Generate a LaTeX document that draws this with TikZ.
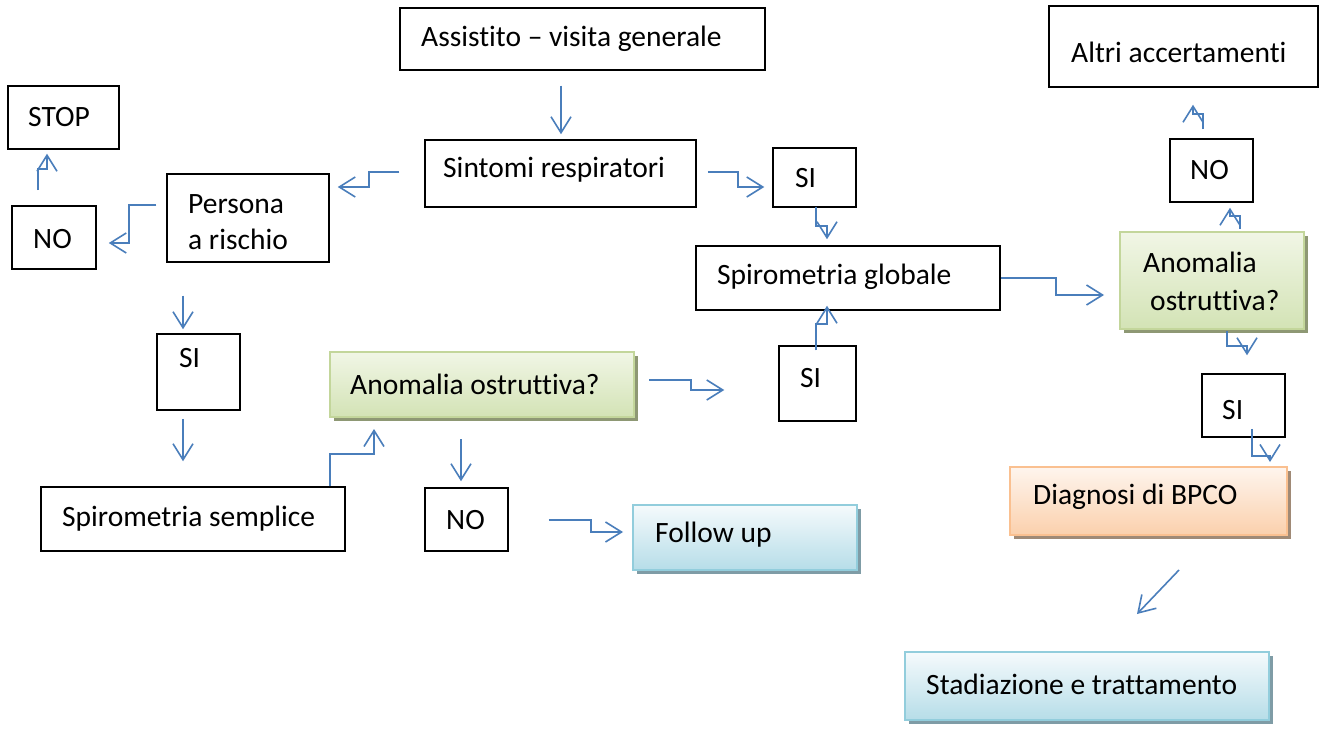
\documentclass[tikz,border=0pt]{standalone}
\usepackage{fontspec}
\setmainfont[Ligatures=NoCommon]{Carlito}
\usetikzlibrary{arrows.meta,calc,shadows}
\definecolor{conncol}{HTML}{4A7EBB}
\definecolor{grtop}{HTML}{F1F6E6}
\definecolor{grbot}{HTML}{D3E3B5}
\definecolor{grline}{HTML}{C3D69B}
\definecolor{grshad}{HTML}{8E9874}
\definecolor{bltop}{HTML}{F5FAFC}
\definecolor{blbot}{HTML}{B6DDE8}
\definecolor{blline}{HTML}{92CDDC}
\definecolor{blshad}{HTML}{7F9CA6}
\definecolor{ortop}{HTML}{FEF5EE}
\definecolor{orbot}{HTML}{FBD0AC}
\definecolor{orline}{HTML}{FAC090}
\definecolor{orshad}{HTML}{A08A76}
\tikzset{
  bx/.style={draw=black, line width=1.5pt, fill=white, inner sep=0pt},
  greenbx/.style={draw=grline, line width=2pt, top color=grtop, bottom color=grbot, inner sep=0pt,
     drop shadow={shadow xshift=4pt, shadow yshift=-4pt, fill=grshad, opacity=1}},
  bluebx/.style={draw=blline, line width=2pt, top color=bltop, bottom color=blbot, inner sep=0pt,
     drop shadow={shadow xshift=4pt, shadow yshift=-4pt, fill=blshad, opacity=1}},
  orangebx/.style={draw=orline, line width=2pt, top color=ortop, bottom color=orbot, inner sep=0pt,
     drop shadow={shadow xshift=4pt, shadow yshift=-4pt, fill=orshad, opacity=1}},
  txt/.style={anchor=west, inner sep=0pt, align=left, font=\fontsize{29.5}{36}\selectfont},
  conn/.style={draw=conncol, line width=1.6pt, -{Straight Barb[length=16pt,width=20pt,line width=1.6pt]}},
}
\begin{document}
\begin{tikzpicture}[x=1pt,y=-1pt]
\useasboundingbox[fill=white] (0,0) rectangle (1326,730);
% boxes
\node[bx, minimum width=365pt, minimum height=62pt] (assist) at (582.5,39) {};
\node[bx, minimum width=111pt, minimum height=63pt] (stop) at (63.5,117.5) {};
\node[bx, minimum width=271pt, minimum height=67pt] (sint) at (560.5,173.5) {};
\node[bx, minimum width=162pt, minimum height=88pt] (pers) at (248,218) {};
\node[bx, minimum width=84pt, minimum height=63pt] (noL) at (54,237.5) {};
\node[bx, minimum width=83pt, minimum height=59pt] (siT) at (814.5,177.5) {};
\node[bx, minimum width=304pt, minimum height=64pt] (spg) at (848,278) {};
\node[bx, minimum width=269pt, minimum height=81pt] (altri) at (1183.5,46.5) {};
\node[bx, minimum width=83pt, minimum height=63pt] (noR) at (1211.5,170.5) {};
\node[greenbx, minimum width=184pt, minimum height=97pt] (anR) at (1212,280.5) {};
\node[bx, minimum width=83pt, minimum height=76pt] (siL) at (198.5,372) {};
\node[greenbx, minimum width=304pt, minimum height=65pt] (anM) at (482,384.5) {};
\node[bx, minimum width=77pt, minimum height=75pt] (siM) at (817.5,383.5) {};
\node[bx, minimum width=83pt, minimum height=63pt] (siR) at (1243.5,405.5) {};
\node[bx, minimum width=304pt, minimum height=64pt] (sps) at (193,519) {};
\node[bx, minimum width=83pt, minimum height=63pt] (noM) at (466.5,519.5) {};
\node[bluebx, minimum width=224pt, minimum height=65pt] (follow) at (745,537.5) {};
\node[orangebx, minimum width=277pt, minimum height=68pt] (diag) at (1148.5,501) {};
\node[bluebx, minimum width=364pt, minimum height=68pt] (stad) at (1087,686) {};
% texts
\node[txt] (t-assist) at (421,39) {Assistito – visita generale};
\node[txt] (t-stop) at (28,117) {STOP};
\node[txt] (t-sint) at (443,170) {Sintomi respiratori};
\node[txt] (t-pers) at (188,222) {Persona\\a rischio};
\node[txt] (t-noL) at (33,239) {NO};
\node[txt] (t-siT) at (795,178) {SI};
\node[txt] (t-spg) at (717,277) {Spirometria globale};
\node[txt] (t-altri) at (1071,52) {Altri accertamenti};
\node[txt] (t-noR) at (1190,170) {NO};
\node[txt] (t-anR) at (1143,281) {Anomalia\\[2pt]\hspace*{7pt}ostruttiva?};
\node[txt] (t-siL) at (179,358) {SI};
\node[txt] (t-anM) at (350,384) {Anomalia ostruttiva?};
\node[txt] (t-siM) at (800,378) {SI};
\node[txt] (t-siR) at (1222,410) {SI};
\node[txt] (t-sps) at (62,519) {Spirometria semplice};
\node[txt] (t-noM) at (446,520) {NO};
\node[txt] (t-follow) at (655,535) {Follow up};
\node[txt] (t-diag) at (1033,497) {Diagnosi di BPCO};
\node[txt] (t-stad) at (926,684) {Stadiazione e trattamento};
% connectors
\draw[conn] ($(assist.south)+(-21.5,15)$) -- ($(sint.north)+(0.5,-5)$);
\draw[conn] ($(sint.west)+(-25,-1.5)$) -- ++(-30,0) |- ($(pers.east)+(8,-31)$);
\draw[conn] ($(sint.east)+(11,-1.5)$) -- ++(30,0) |- ($(siT.west)+(-8,9.5)$);
\draw[conn] ($(pers.west)+(-10,-13)$) -- ++(-27,0) |- ($(noL.east)+(12,5.5)$);
\draw[conn] ($(noL.north)+(-16,-15)$) -- ++(0,-21) -| ($(stop.south)+(-16.5,4)$);
\draw[conn] ($(pers.south)+(-65,33)$) -- ($(siL.north)+(-15.5,-4)$);
\draw[conn] ($(siL.south)+(-15.5,8)$) -- ($(sps.north)+(-10,-25)$);
\draw[conn] ($(sps.north)+(137,0)$) -- ++(0,-32) -| ($(anM.south)+(-108,11)$);
\draw[conn] ($(anM.south)+(-21,21)$) -- ($(noM.north)+(-5.5,-6)$);
\draw[conn] ($(noM.east)+(40,0.5)$) -- ++(42,0) |- ($(follow.west)+(-9,-5.5)$);
\draw[conn] ($(anM.east)+(14,-4.5)$) -- ++(42,0) |- ($(siM.west)+(-54,6.5)$);
\draw[conn] ($(siM.north)+(-1.5,5)$) -- ++(0,-26) -| ($(spg.south)+(-21,-5)$);
\draw[conn] ($(siT.south)+(1.5,-1)$) -- ++(0,19) -| ($(spg.north)+(-21,-6)$);
\draw[conn] (spg.east) -- ++(55,0) |- ($(anR.west)+(-15,14.5)$);
\draw[conn] ($(anR.north)+(28,-2)$) -- ++(0,-13) -| ($(noR.south)+(18.5,5)$);
\draw[conn] ($(noR.north)+(-8.5,-9)$) -- ++(0,-15) -| ($(altri.south)+(9.5,17)$);
\draw[conn] ($(anR.south)+(15,1)$) -- ++(0,15) -| ($(siR.north)+(3.5,-18)$);
\draw[conn] ($(siR.south)+(8.5,-9)$) -- ++(0,27) -| ($(diag.north)+(121.5,-4)$);
\draw[conn] ($(diag.south)+(30.5,34)$) -- ($(stad.north)+(50,-37)$);
\end{tikzpicture}
\end{document}
